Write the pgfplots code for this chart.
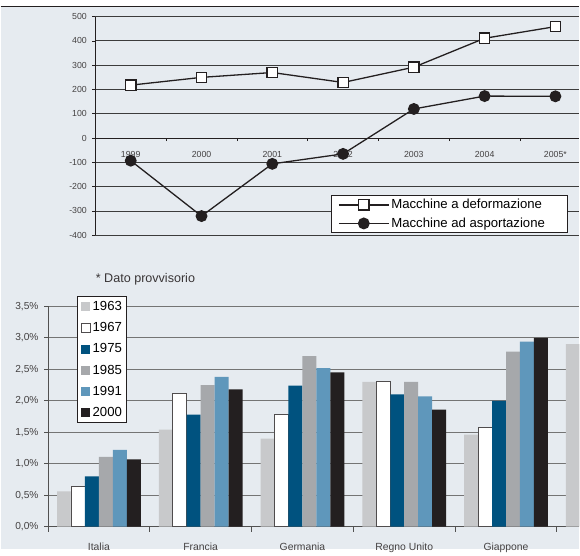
\documentclass[border=0pt]{standalone}
\usepackage{fontspec}
\setmainfont{Liberation Sans}
\usepackage{pgfplots}
\usepackage{pgfplotstable}
\pgfplotsset{compat=1.18}

\definecolor{panel}{HTML}{E6EBF0}
\definecolor{ink}{HTML}{231F20}
\definecolor{gridtop}{HTML}{3C3C3C}
\definecolor{gridbot}{HTML}{747474}
\definecolor{cLight}{HTML}{C8C9CB}
\definecolor{cNavy}{HTML}{00527F}
\definecolor{cMid}{HTML}{A6A8AB}
\definecolor{cSteel}{HTML}{5F97BB}

% Saldo per tipologia di macchina (1999-2005)
\pgfplotstableread{
x def asp
0 218 -93
1 250 -321
2 270 -106
3 229 -65
4 292 120
5 411 173
6 459 172
}\machines

% Quote per paese e anno
\pgfplotstableread{
x y1963 y1967 y1975 y1985 y1991 y2000
0 0.56 0.64 0.80 1.11 1.22 1.07
1 1.54 2.12 1.78 2.25 2.38 2.18
2 1.40 1.78 2.24 2.71 2.52 2.45
3 2.30 2.31 2.10 2.30 2.07 1.86
4 1.46 1.57 2.00 2.78 2.94 3.00
5 2.90 nan nan nan nan nan
}\shares

\begin{document}
\begin{tikzpicture}
\fill[panel] (0pt,0pt) rectangle (580pt,545pt);
\fill[white] (0pt,545pt) rectangle (580pt,551pt);
\draw[ink, line width=1.3pt] (0pt,544.5pt) -- (580pt,544.5pt);

% ---- upper chart: lines ----
\begin{axis}[
  at={(95pt,315pt)}, anchor=south west, scale only axis,
  width=485pt, height=219.3pt,
  xmin=-0.5, xmax=6.331, ymin=-400, ymax=500,
  axis x line=middle, axis y line=left,
  axis line style={-, draw=ink, line width=0.9pt},
  hide obscured x ticks=false,
  xtick={0,...,6},
  xticklabels={1999,2000,2001,2002,2003,2004,2005*},
  major x tick style={draw=none},
  minor xtick={0.5,1.5,...,5.5},
  minor x tick style={draw=ink, line width=0.8pt},
  minor tick length=3pt,
  tick align=outside,
  major tick length=3pt,
  xticklabel style={font=\fontsize{8.8}{10}\selectfont, text=ink!85, yshift=-7pt},
  ytick={-400,-300,...,500},
  y tick style={draw=ink, line width=0.8pt},
  yticklabel style={font=\fontsize{8.8}{10}\selectfont, text=ink!85, xshift=-2pt},
  ymajorgrids, grid style={gridtop, line width=0.9pt},
  /pgf/number format/assume math mode=true,
  clip=false,
  legend style={at={(0.487,0.182)}, anchor=north west, draw=ink, line width=0.9pt,
    fill=white, font=\fontsize{13.2}{15}\selectfont, row sep=3.5pt,
    inner xsep=7pt, inner ysep=1.5pt, cells={anchor=west}},
  legend image code/.code={\draw[mark repeat=2,mark phase=2,#1] plot coordinates {(0pt,0pt) (25pt,0pt) (50pt,0pt)};},
]
\addplot[draw=ink, line width=1.3pt, mark=square*, mark size=5.2pt,
  mark options={fill=white, draw=ink, line width=1.3pt}]
  table[x=x, y=def] {\machines};
\addlegendentry{Macchine a deformazione\rule{14pt}{0pt}}
\addplot[draw=ink, line width=1.3pt, mark=*, mark size=5.3pt,
  mark options={fill=ink, draw=ink}]
  table[x=x, y=asp] {\machines};
\addlegendentry{Macchine ad asportazione\rule{14pt}{0pt}}
\end{axis}

\node[anchor=west, font=\fontsize{12.6}{14}\selectfont, text=ink!90] at (92pt,271pt) {* Dato provvisorio};

% ---- lower chart: bars ----
\begin{axis}[
  at={(47.5pt,22.7pt)}, anchor=south west, scale only axis,
  width=532.5pt, height=221pt,
  xmin=-0.5, xmax=4.7206, ymin=0, ymax=3.5,
  ybar=0pt, bar width=14pt,
  axis x line*=bottom, axis y line*=left,
  axis line style={-, draw=gridbot!70!black, line width=1pt},
  xtick={0,...,4},
  xticklabels={Italia,Francia,Germania,Regno Unito,Giappone},
  major x tick style={draw=none},
  minor xtick={-0.5,0.5,...,4.5},
  minor x tick style={draw=gridbot!70!black, line width=1pt},
  minor tick length=5pt,
  tick align=outside,
  major tick length=4pt,
  y tick style={draw=gridbot!70!black, line width=1pt},
  xticklabel style={font=\fontsize{10.4}{12}\selectfont, text=ink!85, yshift=-8.5pt},
  ytick={0,0.5,...,3.5},
  yticklabel={\pgfmathprintnumber[fixed,fixed zerofill,precision=1,use comma]{\tick}\%},
  yticklabel style={font=\fontsize{10.2}{12}\selectfont, text=ink!85, xshift=-2pt},
  ymajorgrids, grid style={gridbot, line width=1.3pt},
  /pgf/number format/assume math mode=true,
  legend style={at={(0.0554,1.0466)}, anchor=north west, draw=ink, line width=0.9pt,
    fill=white, font=\fontsize{13.2}{15}\selectfont, row sep=6.5pt,
    inner xsep=3pt, inner ysep=3pt, cells={anchor=west}},
  legend image code/.code={\path[#1] (0pt,-4.5pt) rectangle (9pt,4.5pt);},
]
\addplot[fill=cLight, draw=none] table[x=x, y=y1963] {\shares};
\addlegendentry{1963}
\addplot[fill=white, draw=ink!80, line width=0.8pt] table[x=x, y=y1967] {\shares};
\addlegendentry{1967}
\addplot[fill=cNavy, draw=none] table[x=x, y=y1975] {\shares};
\addlegendentry{1975}
\addplot[fill=cMid, draw=none] table[x=x, y=y1985] {\shares};
\addlegendentry{1985}
\addplot[fill=cSteel, draw=none] table[x=x, y=y1991] {\shares};
\addlegendentry{1991}
\addplot[fill=ink, draw=none] table[x=x, y=y2000] {\shares};
\addlegendentry{2000}
\end{axis}
\end{tikzpicture}
\end{document}
